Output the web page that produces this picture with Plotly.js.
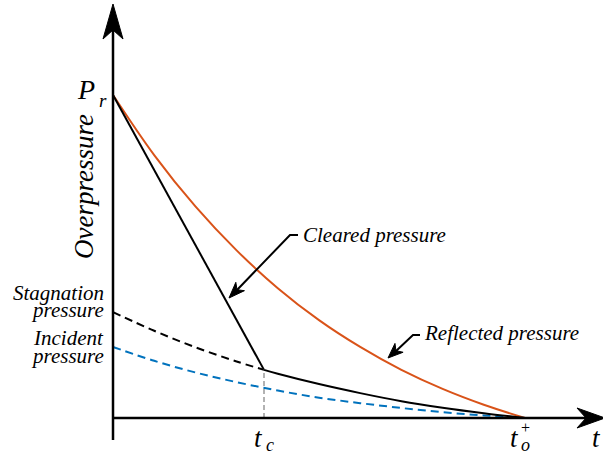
<!DOCTYPE html>
<html>
<head>
<meta charset="utf-8">
<script src="https://cdn.plot.ly/plotly-3.0.1.min.js"></script>
</head>
<body style="margin:0;background:#fff">
<div id="chart"></div>
<script>
// Normalised time (t_o+ = 1) and normalised overpressure (P_r = 1)
var tGrid = [0, 0.1, 0.2, 0.3, 0.4, 0.5, 0.6, 0.7, 0.8, 0.9, 1.0];
var reflected = [1.0, 0.814, 0.655, 0.519, 0.402, 0.303, 0.220, 0.149, 0.090, 0.041, 0.0];
var incident = [0.220, 0.177, 0.141, 0.111, 0.085, 0.063, 0.046, 0.031, 0.018, 0.008, 0.0];
var tStag = [0, 0.1, 0.2, 0.3, 0.3665];
var stagnation = [0.328, 0.270, 0.219, 0.175, 0.149];
var tCleared = [0, 0.3665, 0.4, 0.5, 0.6, 0.7, 0.8, 0.9, 1.0];
var cleared = [1.0, 0.149, 0.137, 0.105, 0.077, 0.052, 0.032, 0.015, 0.0];
var tcValue = 0.3665;

(function () {
  // pixel -> data helpers for decorations (origin at px 113,418)
  function px2x(px) { return (px - 113) / 412; }
  function py2y(py) { return (418 - py) / 323; }

  var traces = [
    {x: tGrid, y: reflected, mode: 'lines', line: {color: '#D95319', width: 2, shape: 'spline'}, hoverinfo: 'skip'},
    {x: tGrid, y: incident, mode: 'lines', line: {color: '#0072BD', width: 2, dash: '8px,5px', shape: 'spline'}, hoverinfo: 'skip'},
    {x: tStag, y: stagnation, mode: 'lines', line: {color: '#000', width: 2, dash: '8px,5px', shape: 'spline'}, hoverinfo: 'skip'},
    {x: tCleared.slice(0, 2), y: cleared.slice(0, 2), mode: 'lines', line: {color: '#000', width: 2}, hoverinfo: 'skip'},
    {x: tCleared.slice(1), y: cleared.slice(1), mode: 'lines', line: {color: '#000', width: 2, shape: 'spline'}, hoverinfo: 'skip'},
    {x: [tcValue, tcValue], y: [0, cleared[1]], mode: 'lines', line: {color: '#999', width: 1.5, dash: '5px,3px'}, hoverinfo: 'skip'}
  ];

  function pathOf(pts, close) {
    return pts.map(function (p, i) { return (i ? 'L' : 'M') + px2x(p[0]) + ',' + py2y(p[1]); }).join(' ') + (close ? ' Z' : '');
  }
  function arrowHead(tip, from, len, half) {
    var dx = tip[0] - from[0], dy = tip[1] - from[1];
    var L = Math.hypot(dx, dy), ux = dx / L, uy = dy / L;
    var bx = tip[0] - ux * len, by = tip[1] - uy * len;
    var nx = tip[0] - ux * len * 0.72, ny = tip[1] - uy * len * 0.72;
    return pathOf([tip, [bx - uy * half, by + ux * half], [nx, ny], [bx + uy * half, by - ux * half]], true);
  }

  var shapes = [
    {type: 'line', x0: px2x(113), y0: py2y(440), x1: px2x(113), y1: py2y(30), line: {color: '#000', width: 2.5}},
    {type: 'line', x0: px2x(113), y0: py2y(418), x1: px2x(588), y1: py2y(418), line: {color: '#000', width: 2.5}},
    {type: 'path', path: pathOf([[113, 4], [103, 39], [113, 30], [123, 39]], true), fillcolor: '#000', line: {color: '#000', width: 1}},
    {type: 'path', path: pathOf([[605, 418], [577, 408], [586, 418], [577, 428]], true), fillcolor: '#000', line: {color: '#000', width: 1}},
    {type: 'path', path: pathOf([[298, 235], [290, 235], [237, 290]]), line: {color: '#000', width: 2}},
    {type: 'path', path: arrowHead([229, 298], [290, 235], 16, 6), fillcolor: '#000', line: {color: '#000', width: 1}},
    {type: 'path', path: pathOf([[420, 335], [413, 335], [395, 352]]), line: {color: '#000', width: 2}},
    {type: 'path', path: arrowHead([388, 358], [413, 335], 15, 6), fillcolor: '#000', line: {color: '#000', width: 1}}
  ];

  function label(text, px, py, size, xanchor, angle, upright) {
    var a = {
      x: px2x(px), y: py2y(py), text: text, showarrow: false,
      xanchor: xanchor, yanchor: 'middle',
      font: {family: 'Liberation Serif', size: size, color: '#000', style: upright ? 'normal' : 'italic'}
    };
    if (angle) a.textangle = angle;
    return a;
  }

  var annotations = [
    label('P', 97, 89, 28, 'right'),
    label('r', 97, 100, 19, 'left'),
    label('Overpressure', 84, 187, 27, 'center', -90),
    label('Stagnation', 106, 293, 21, 'right'),
    label('pressure', 106, 310, 21, 'right'),
    label('Incident', 106, 338, 21, 'right'),
    label('pressure', 106, 356, 21, 'right'),
    label('Cleared pressure', 301, 235, 21, 'left'),
    label('Reflected pressure', 422, 333, 21, 'left'),
    label('t', 265, 438, 27, 'right'),
    label('c', 264, 445, 18, 'left'),
    label('t', 521, 438, 27, 'right'),
    label('o', 519, 445, 18, 'left'),
    label('+', 519, 427, 16, 'left', 0, true),
    label('t', 596, 438, 27, 'center')
  ];

  var layout = {
    width: 603, height: 455,
    margin: {l: 0, r: 0, t: 0, b: 0},
    font: {family: 'Liberation Serif', color: '#000'},
    paper_bgcolor: '#fff', plot_bgcolor: '#fff',
    showlegend: false,
    xaxis: {range: [px2x(0), px2x(603)], visible: false, fixedrange: true},
    yaxis: {range: [py2y(455), py2y(0)], visible: false, fixedrange: true},
    shapes: shapes,
    annotations: annotations
  };

  Plotly.newPlot('chart', traces, layout, {displayModeBar: false});
})();
</script>
</body>
</html>
